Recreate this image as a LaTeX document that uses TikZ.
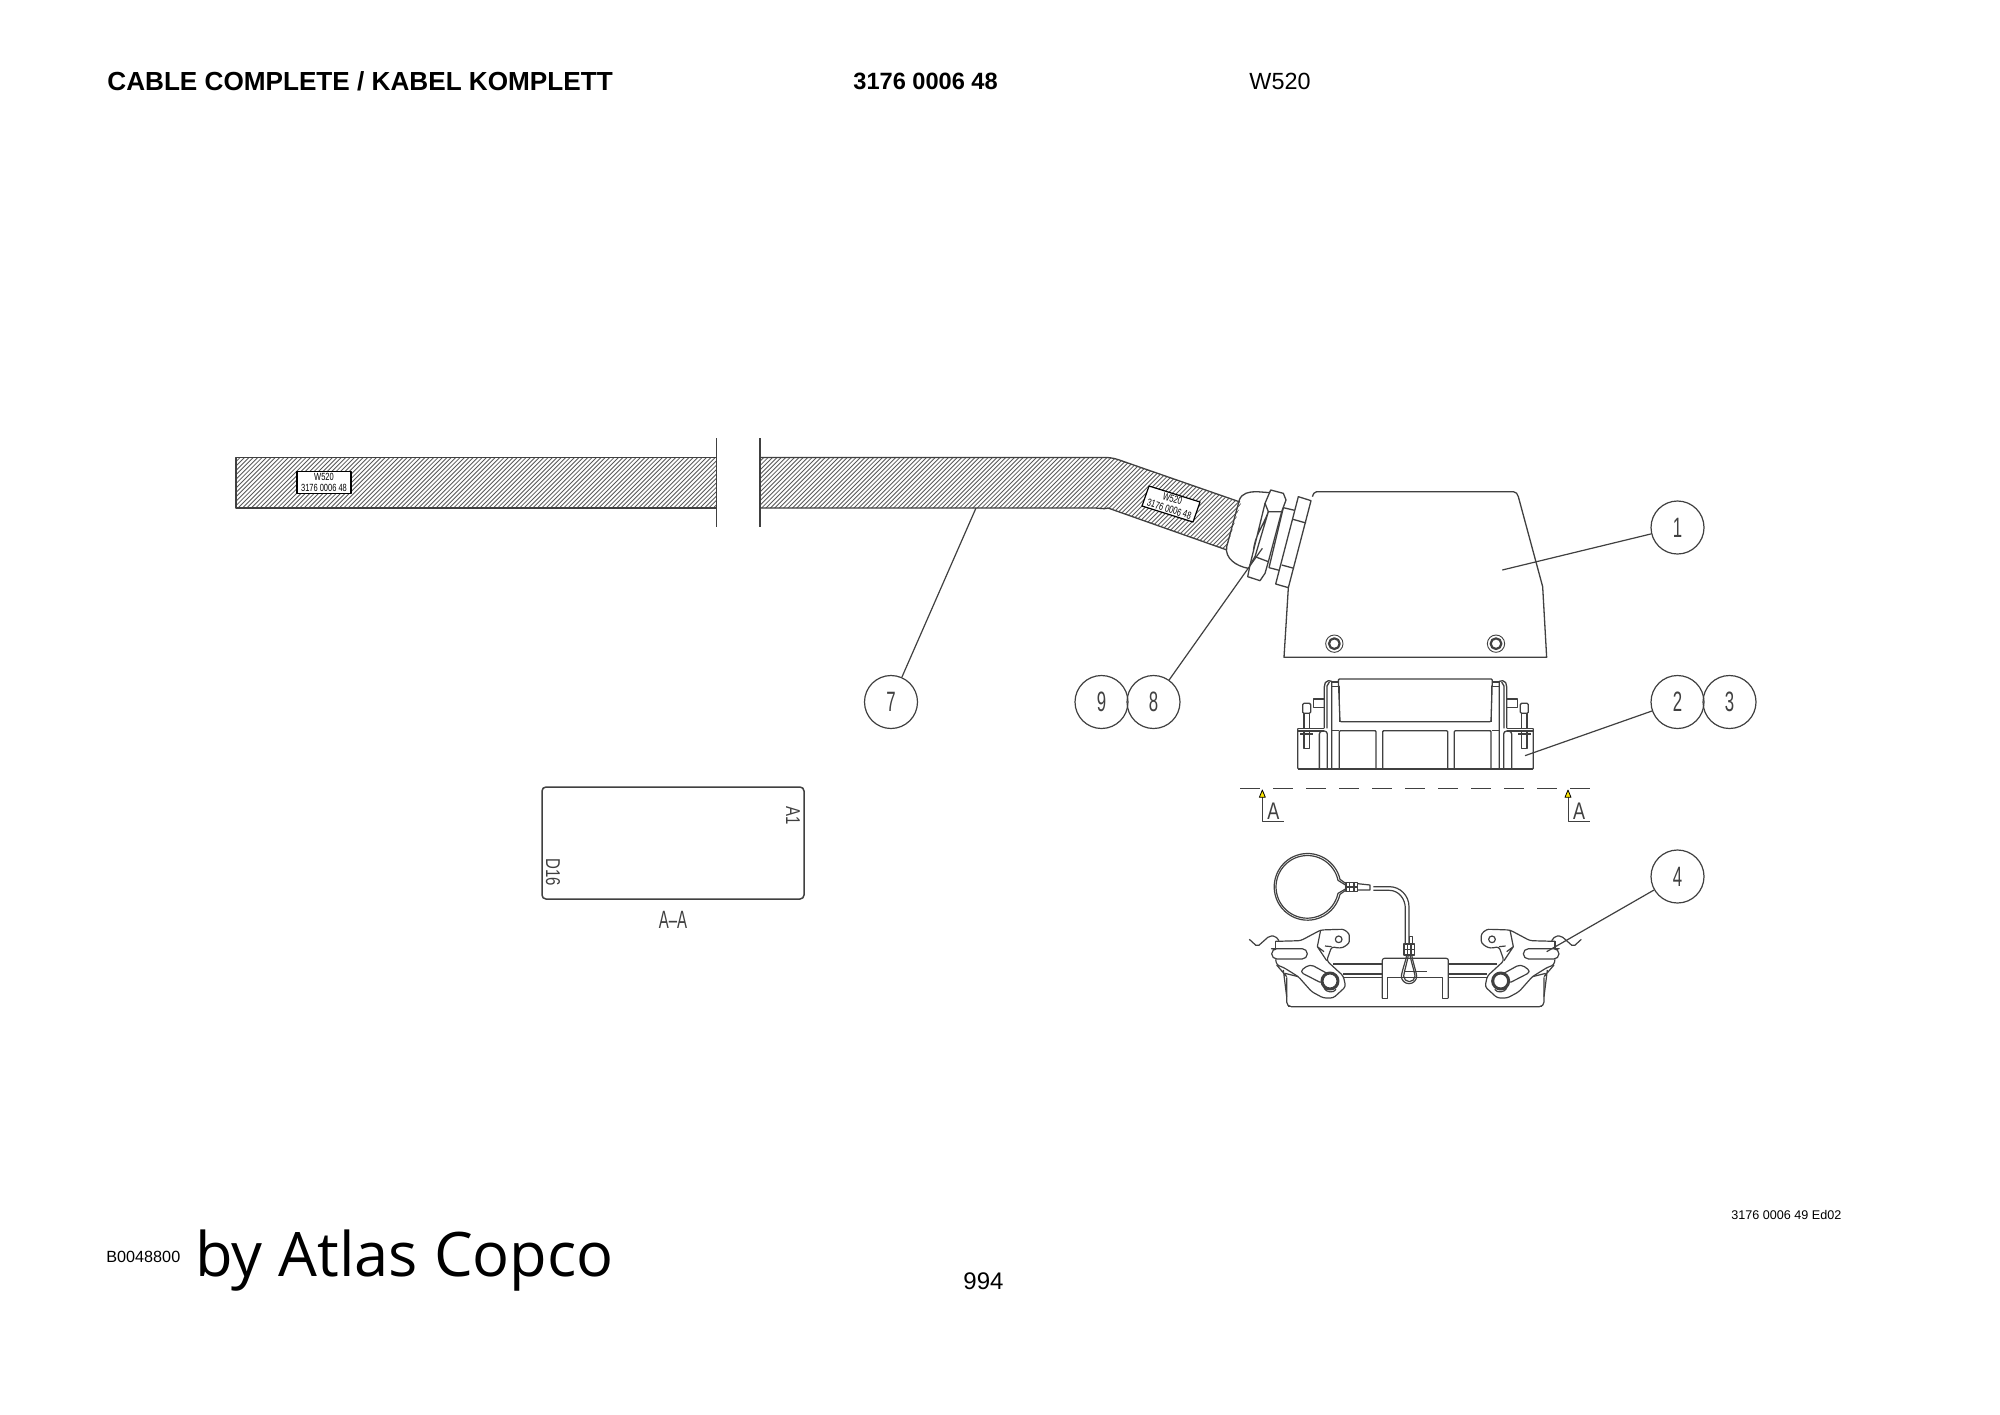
\documentclass[tikz,border=0pt]{standalone}
\usepackage{fontspec}
\usepackage{graphicx}
\setmainfont{Liberation Sans}
\newfontfamily\bigfont{Open Sans}
\definecolor{ink}{HTML}{404040}
\newcommand\cad[1]{\scalebox{.6}[1]{#1}}
\newcommand\tagt[1]{\scalebox{.72}[1]{#1}}
\newcommand\halfTwo{%
  \draw (283,205) -- (283,80) to[out=90,in=180] (295,62) -- (305,64) -- (305,326);
  \draw (291,205) -- (291,78) -- (298,66);
  \draw (305,80) -- (328,80) -- (328,185);
  \draw (305,66) -- (325,66);
  \draw (328,212) -- (305,212);
  \draw (250,117) rectangle (283,143);
  \draw[rounded corners=.6pt] (218,160) -- (218,130) -- (242,130) -- (242,160) -- cycle;
  \draw (222,160) -- (222,205) (238,160) -- (238,205);
  \draw (210,222) -- (250,222) (222,213) -- (222,265) -- (238,265) -- (238,213);
  \draw[rounded corners=1.5pt] (268,326) -- (268,213) -- (292,213) -- (292,326);
  \draw (203,205) -- (283,205) (203,213) -- (283,213);
  \draw[rounded corners=.5pt] (203,205) -- (203,327) -- (300,327);
}
\newcommand\halfFour{%
  \draw[rounded corners=1pt] (58,298) -- (82,320) -- (118,288) -- (136,288) -- (147,302);
  \draw[rounded corners=1.4pt] (137,304) -- (212,302) -- (272,270) -- (328,268) to[out=0,in=90] (358,295) to[out=270,in=20] (330,325) -- (305,320) -- (290,362) -- (340,408) -- (347,440) -- (310,474) -- (280,474) -- (245,455) -- (205,410) -- (160,382) -- (140,375) -- (137,358);
  \draw (137,304) -- (137,325);
  \draw[rounded corners=2.6pt] (140,326) -- (232,326) -- (232,357) -- (125,357) -- (125,326) -- cycle;
  \draw[rounded corners=2.2pt] (240,372) -- (300,405) -- (280,432) -- (208,395) -- cycle;
  \draw (326,298) circle (10);
  \draw (272,270) -- (262,320) -- (290,362) (262,320) -- (282,335);
  \draw (305,320) -- (285,318);
  \filldraw[fill=white,line width=1.5pt] (300,423) circle (24);
  \draw (282,445) to[out=-60,in=-120] (318,448);
  \draw (310,372) -- (457,372) (340,402) -- (457,402) (340,413) -- (457,413);
  \draw (160,390) -- (170,470) (170,410) -- (140,375) (165,400) -- (205,410);
  \draw[rounded corners=2.3pt] (170,412) -- (170,500) -- (556,500);
}
\begin{document}
\begin{tikzpicture}[x=.5pt,y=-.5pt,line join=round,
  ink line/.style={draw=ink,line width=.65pt},
  balloon/.style={circle,draw=ink,line width=.6pt,minimum size=26.5pt,inner sep=0pt,font=\fontsize{14}{14}\selectfont,text=ink},
  lead/.style={draw=ink,line width=.6pt},
  tiny label/.style={font=\fontsize{5.2}{6}\selectfont,text=black,inner sep=0pt,align=center},
  cad text/.style={font=\fontsize{10}{10}\selectfont,text=ink,inner sep=0pt},
  head/.style={inner sep=0pt,anchor=base west,text=black}]
\useasboundingbox (0,0) rectangle (2000,1414);
\fill[white] (0,0) rectangle (2000,1414);
% headings
\node[head,font=\bfseries\fontsize{13.07}{14}\selectfont] (title) at (107,90) {CABLE COMPLETE / KABEL KOMPLETT};
\node[head,font=\bfseries\fontsize{11.8}{14}\selectfont] (pn) at (853,89) {3176 0006 48};
\node[head,font=\fontsize{11.7}{14}\selectfont] (wno) at (1249,89) {W520};
\node[head,font=\fontsize{6.3}{8}\selectfont] (ed) at (1731,1219) {3176 0006 49 Ed02};
\node[head,font=\fontsize{8.1}{10}\selectfont] (bno) at (106,1262) {B0048800};
\node[head,font=\bigfont\fontsize{30.7}{36}\selectfont] (by) at (195,1276) {by Atlas Copco};
\node[head,font=\fontsize{12}{14}\selectfont] (page) at (963,1289) {994};
% cable
\begin{scope}
\clip (236,457.5) -- (716.7,457.5) -- (716.7,508) -- (236,508) -- cycle
      (760,457.5) -- (1105,457.5) to[out=0,in=160] (1125,462) -- (1241,503) -- (1226,550) -- (1108,508) to[out=197,in=0] (1095,508) -- (760,508) -- cycle;
\foreach \k in {0,...,270}{
  \draw[draw=black!65,line width=.42pt] ({110+4.4*\k},570) -- ({110+4.4*\k+140},430);
}
\end{scope}
\draw[ink line] (716.7,457.5) -- (236,457.5) -- (236,508) -- (716.7,508);
\draw[ink line] (760,457.5) -- (1105,457.5) to[out=0,in=160] (1125,462) -- (1240,502);
\draw[ink line] (760,508) -- (1095,508) to[out=0,in=197] (1108,508) -- (1227,550);
\draw[ink line] (716.7,438) -- (716.7,527);
\draw[ink line] (760,438) -- (760,527);
\node[draw=black,line width=.6pt,fill=white,minimum width=27pt,minimum height=10.8pt,inner sep=0pt] (tag1) at (324,482.5) {};
\node[tiny label] (tag1a) at (324,482.5) {\tagt{W520}\\[-.6pt]\tagt{3176 0006 48}};
\filldraw[fill=white,draw=black,line width=.6pt] (1149,486) -- (1200,502) -- (1193,522) -- (1142,506) -- cycle;
\node[tiny label,rotate=-17.5] (tag2a) at (1171,504) {\tagt{W520}\\[-.6pt]\tagt{3176 0006 48}};
% hood and gland, zoom frame
\begin{scope}[shift={(1200,440)},x=.5pt/3,y=-.5pt/3]
\draw[ink line] (265,443) -- (252,652) -- (1040,652) -- (1028,440) -- (955,170) to[out=105,in=0] (940,155) -- (350,155) to[out=180,in=70] (337,170) ;
\foreach \c in {403,888}{
  \draw[ink line,line width=.45pt] (\c,611) circle (26);
  \draw[ink line,line width=1.1pt] (\c,611) circle (16);
}
\draw[ink line] (295,170) -- (333,182) -- (265,443) -- (227,432) -- cycle;
\draw[ink line] (279,238) -- (318,249) (245,375) -- (282,385);
\draw[ink line] (250,203) -- (284,211) (207,383) -- (238,391) (250,203) -- (207,383);
\draw[ink line] (118,180) to[out=70,in=180] (170,155) -- (210,158);
\draw[ink line] (118,180) -- (80,320) to[out=260,in=170] (145,385);
\draw[ink line] (205,215) -- (195,190) -- (212,150) -- (250,160) -- (258,180) -- (245,215) -- cycle;
\draw[ink line] (165,350) -- (150,375) -- (143,410) -- (180,422) -- (195,400) -- (205,365) -- cycle;
\draw[ink line] (205,215) -- (165,350) (245,215) -- (205,365) (195,190) -- (150,375) (205,215) to[out=250,in=85] (160,335);
\coordinate (end8) at (187,325);
\coordinate (end1) at (907,390);
\end{scope}
% part 2
\begin{scope}[shift={(1230,660)},x=.5pt/3,y=-.5pt/3,every path/.append style={draw=ink,line width=.65pt}]
\draw[rounded corners=.5pt] (325,57) -- (787,57) -- (783,185) -- (330,185) -- cycle;
\foreach \a/\b in {328/438,458/653,673/783}{
  \draw[rounded corners=.5pt] (\a,327) -- (\a,212) -- (\b,212) -- (\b,327);
}
\draw (203,327) -- (910,327);
\halfTwo
\begin{scope}[shift={(556.5,0)},xscale=-1,shift={(-556.5,0)}]
\halfTwo
\end{scope}
\draw[dash pattern=on 20pt/2 off 13pt/2] (30,385) -- (1080,385);
\end{scope}
\begin{scope}[shift={(1230,660)},x=.5pt/3,y=-.5pt/3]
\coordinate (end2) at (885,287);
\draw[ink line,line width=.5pt] (97,412) -- (97,484) -- (163,484);
\draw[ink line,line width=.5pt] (1014,412) -- (1014,484) -- (1080,484);
\filldraw[fill=yellow!90!orange,draw=black,line width=.4pt] (97,390) -- (88,412) -- (106,412) -- cycle;
\filldraw[fill=yellow!90!orange,draw=black,line width=.4pt] (1014,390) -- (1005,412) -- (1023,412) -- cycle;
\node[cad text,font=\fontsize{12}{12}\selectfont] (secA) at (130,455) {\scalebox{.75}[1]{A}};
\node[cad text,font=\fontsize{12}{12}\selectfont] (secB) at (1047,455) {\scalebox{.75}[1]{A}};
\end{scope}
% part 4
\begin{scope}[shift={(1230,840)},x=.5pt/3,y=-.5pt/3,every path/.append style={draw=ink,line width=.6pt}]
\draw (348,131) -- (330,118) arc[start angle=-13,delta angle=-334,x radius=100,y radius=100] -- (348,150);
\draw (348,136) -- (324,121) arc[start angle=-12,delta angle=-336,x radius=94,y radius=94] -- (348,146);
\draw (348,127) rectangle (383,155);
\draw (358,127) -- (358,155) (372,127) -- (372,155) (348,141) -- (383,141);
\draw (383,131) -- (420,135) -- (420,150) -- (383,150);
\draw (430,140) -- (478,140) to[out=0,in=90] (537,200) -- (537,310);
\draw (430,151) -- (478,151) to[out=0,in=90] (526,205) -- (526,310);
\draw (522,312) rectangle (553,345);
\draw (532,312) -- (532,345) (543,312) -- (543,345) (522,328) -- (553,328);
\draw (538,312) -- (538,290) -- (548,290) -- (548,312);
\draw (530,345) to[out=260,in=80] (514,408) arc[start angle=180,end angle=0,radius=23] to[out=100,in=280] (545,345);
\draw (535,345) to[out=260,in=80] (521,408) arc[start angle=180,end angle=0,radius=17] to[out=100,in=280] (540,345);
\draw[rounded corners=1pt] (457,475) -- (457,355) -- (655,355) -- (655,475);
\draw (457,475) -- (473,475) -- (473,412) -- (638,412) -- (638,475) -- (655,475);
\draw (525,395) -- (590,395);
\draw (175,500) -- (935,500);
\halfFour
\begin{scope}[shift={(556,0)},xscale=-1,shift={(-556,0)}]
\halfFour
\end{scope}
\end{scope}
\begin{scope}[shift={(1230,840)},x=.5pt/3,y=-.5pt/3]
\coordinate (end4) at (950,335);
\end{scope}
\coordinate (end7) at (976,508);
% A-A view
\draw[ink line,line width=.75pt,rounded corners=2pt] (542,787) rectangle (804,899);
\node[cad text,rotate=-90] (a1) at (793,816) {\scalebox{.75}[1]{A1}};
\node[cad text,rotate=-90] (d16) at (553,872) {\scalebox{.75}[1]{D16}};
\node[cad text,font=\fontsize{12.5}{12.5}\selectfont] (aa) at (673,920) {\cad{A--A}};
% balloons
\node[balloon] (b1) at (1677.5,527.5) {\cad{1}};
\node[balloon] (b2) at (1677.5,702) {\cad{2}};
\node[balloon] (b3) at (1729.5,702) {\cad{3}};
\node[balloon] (b4) at (1677.5,876.5) {\cad{4}};
\node[balloon] (b7) at (891,702) {\cad{7}};
\node[balloon] (b8) at (1153.5,702) {\cad{8}};
\node[balloon] (b9) at (1101.5,702) {\cad{9}};
\draw[lead] (b1) -- (end1);
\draw[lead] (b2) -- (end2);
\draw[lead] (b4) -- (end4);
\draw[lead] (b7) -- (end7);
\draw[lead] (b8) -- (end8);
\end{tikzpicture}
\end{document}
